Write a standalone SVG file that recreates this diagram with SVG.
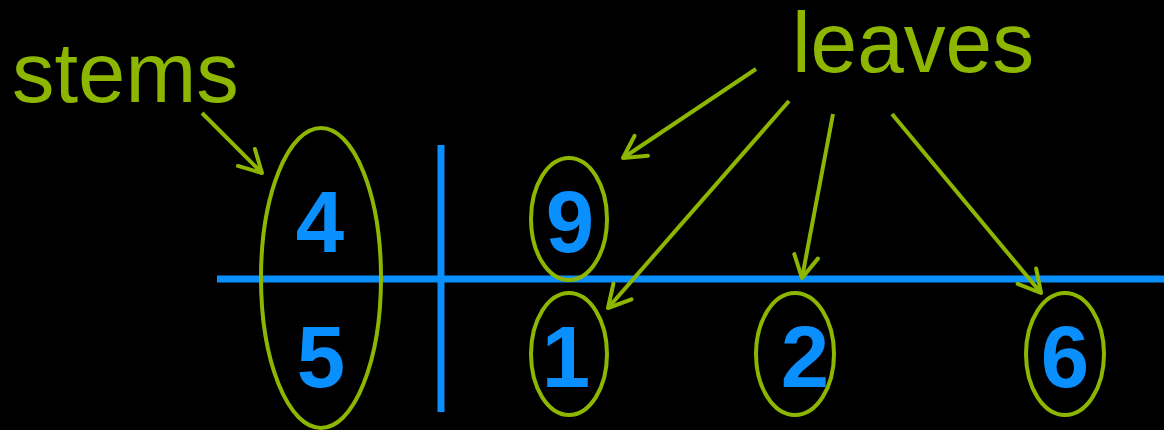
<svg xmlns="http://www.w3.org/2000/svg" width="1164" height="430" viewBox="0 0 1164 430">
<defs>
<style>
.lbl{font-family:"Liberation Sans",Arial,sans-serif;fill:#8DB600;}
.dig{font-family:"Liberation Sans",Arial,sans-serif;font-weight:bold;font-size:87px;fill:#0A8FFF;text-anchor:middle;}
.ring{fill:none;stroke:#8DB600;stroke-width:4;}
.axis{stroke:#0A8FFF;stroke-width:7;}
.arr{stroke:#8DB600;stroke-width:4;fill:none;marker-end:url(#ah);}
</style>
<marker id="ah" markerUnits="userSpaceOnUse" viewBox="-26 -16 30 32" markerWidth="30" markerHeight="32" refX="0" refY="0" orient="auto">
<path d="M-22,-12 L0,0 L-22,12" fill="none" stroke="#8DB600" stroke-width="4" stroke-linejoin="round" stroke-linecap="round"/>
</marker>
</defs>
<rect width="1164" height="430" fill="#000"/>
<g id="axes">
<line class="axis" x1="217" y1="279" x2="1164" y2="279"/>
<line class="axis" x1="441" y1="145" x2="441" y2="412"/>
</g>
<g id="stems-label"><text class="lbl" x="12" y="102" font-size="85">stems</text></g>
<g id="leaves-label"><text class="lbl" x="792" y="72" font-size="85" textLength="242" lengthAdjust="spacingAndGlyphs">leaves</text></g>
<g id="stem-group">
<ellipse class="ring" cx="321" cy="278" rx="60" ry="150"/>
<text class="dig" x="320" y="252">4</text>
<text class="dig" x="321" y="387">5</text>
</g>
<g id="leaf-9">
<ellipse class="ring" cx="569" cy="219" rx="38" ry="61"/>
<text class="dig" x="570" y="252">9</text>
</g>
<g id="leaf-1">
<ellipse class="ring" cx="569" cy="354" rx="38" ry="61"/>
<text class="dig" x="566" y="387">1</text>
</g>
<g id="leaf-2">
<ellipse class="ring" cx="795" cy="354" rx="39" ry="61"/>
<text class="dig" x="805" y="387">2</text>
</g>
<g id="leaf-6">
<ellipse class="ring" cx="1065" cy="354" rx="39" ry="61"/>
<text class="dig" x="1065" y="387">6</text>
</g>
<g id="connectors">
<line class="arr" x1="202" y1="113" x2="262" y2="173"/>
<line class="arr" x1="756" y1="69" x2="623" y2="158"/>
<line class="arr" x1="789" y1="101" x2="608" y2="308"/>
<line class="arr" x1="833" y1="114" x2="802" y2="278"/>
<line class="arr" x1="892" y1="114" x2="1041" y2="293"/>
</g>
</svg>
